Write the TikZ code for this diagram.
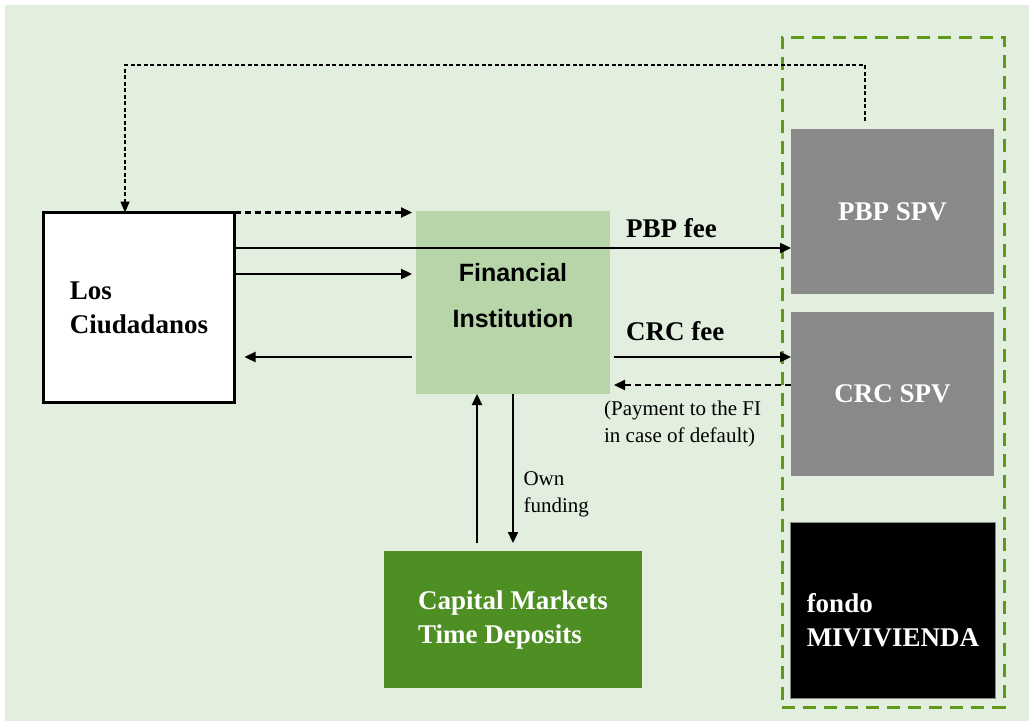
\documentclass[tikz,border=0pt]{standalone}
\usepackage{fontspec}
\setmainfont{Liberation Serif}
\newfontfamily\fisans{Liberation Sans}
\usetikzlibrary{arrows.meta,positioning}
\definecolor{bgfill}{RGB}{226,238,222}
\definecolor{fifill}{RGB}{183,213,168}
\definecolor{cmfill}{RGB}{78,143,35}
\definecolor{spvgray}{RGB}{137,137,137}
\definecolor{grpgreen}{RGB}{96,152,24}

\begin{document}
\begin{tikzpicture}[x=1pt,y=-1pt,
    box/.style={rectangle,outer sep=0pt,inner sep=0pt,align=left},
    bigtext/.style={font=\fontsize{27}{34}\selectfont\bfseries},
    smalltext/.style={font=\fontsize{21}{27}\selectfont,inner sep=1pt,align=left},
    arr/.style={line width=2.3pt,-{Triangle[length=11pt,width=10pt]}},
    dasharr/.style={arr,dash pattern=on 6pt off 4pt},
    dotarr/.style={line width=1.6pt,dash pattern=on 4pt off 2.5pt,-{Triangle[length=11pt,width=9pt]}}]
    \useasboundingbox (0,0) rectangle (1034,723);
    \fill[bgfill] (5,5) rectangle (1029,721);
    % boxes
    \node[box,draw,line width=3pt,fill=white,minimum width=191pt,minimum height=190pt,bigtext] (ciud) at (139,307.5) {Los\\Ciudadanos};
    \node[box,fill=fifill,minimum width=194pt,minimum height=183pt,align=center,font=\fisans\fontsize{25}{46}\selectfont\bfseries] (fi) at (513,302.5) {Financial\\Institution\rule[-14pt]{0pt}{0pt}};
    \node[box,fill=cmfill,text=white,minimum width=258pt,minimum height=137pt,bigtext] (cm) at (513,619.5) {Capital Markets\\Time Deposits};
    \node[box,fill=spvgray,text=white,minimum width=203pt,minimum height=165pt,bigtext] (pbp) at (892.5,211.5) {PBP SPV};
    \node[box,fill=spvgray,text=white,minimum width=203pt,minimum height=164pt,bigtext] (crc) at (892.5,394) {CRC SPV};
    \node[box,fill=black,draw=spvgray,line width=1pt,text=white,minimum width=205pt,minimum height=176pt,bigtext] (fondo) at (893,610) {\rule{0pt}{40pt}fondo\\MIVIVIENDA};
    \node[box,draw=grpgreen,line width=3pt,dash pattern=on 13pt off 8pt,minimum width=222pt,minimum height=670pt] (grp) at (893,372) {};
    % flows
    \draw[dotarr] ([xshift=-27.5pt,yshift=8pt]pbp.north) -- ++(0,-56) -| ([xshift=-14pt]ciud.north);
    \draw[dasharr] (ciud.north east) -- ([xshift=-4pt]ciud.north east -| fi.west);
    \draw[arr] ([yshift=-35.5pt]ciud.north east) coordinate (c2) -- (c2 -| pbp.west)
      node[pos=0.7,anchor=south west,yshift=8pt,inner sep=1pt,bigtext] (pbpfee) {PBP fee};
    \draw[arr] ([yshift=-61.5pt]ciud.north east) coordinate (c3) -- ([xshift=-4pt]c3 -| fi.west);
    \draw[arr] ([xshift=-4pt,yshift=-146pt]fi.north west) coordinate (c4) -- ([xshift=10pt]c4 -| ciud.east);
    \draw[arr] ([xshift=4pt]c4 -| fi.east) -- (c4 -| crc.west)
      node[pos=0.056,anchor=south west,yshift=14pt,inner sep=1pt,bigtext] (crcfee) {CRC fee};
    \draw[dasharr] ([yshift=-73pt]crc.north west) coordinate (c5) -- ([xshift=4pt]c5 -| fi.east)
      node[pos=1,anchor=north west,xshift=-12pt,yshift=-13.5pt,smalltext] (payment) {(Payment to the FI\\in case of default)};
    \draw[arr] ([xshift=-36pt,yshift=8pt]cm.north) coordinate (c6) -- (c6 |- fi.south);
    \draw[arr] (fi.south) -- ([yshift=8pt]cm.north)
      node[pos=0.507,anchor=north west,xshift=8.4pt,smalltext] (own) {Own\\funding};
  \end{tikzpicture}
\end{document}
